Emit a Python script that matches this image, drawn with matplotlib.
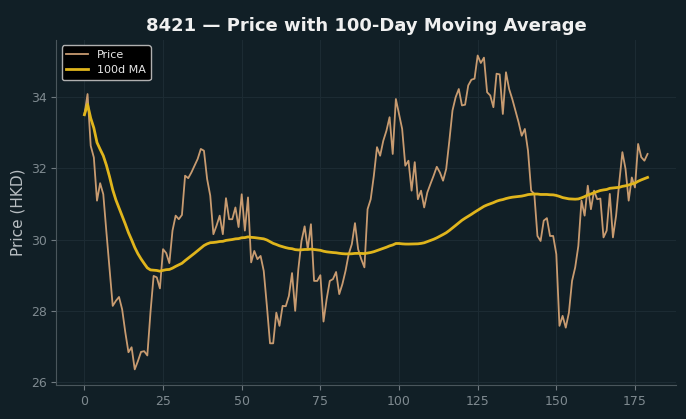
import numpy as np
import pandas as pd
import matplotlib
matplotlib.use("Agg")
import matplotlib.pyplot as plt

# daily closing prices (180 trading days)
price = [
    33.50, 34.08, 32.63, 32.30, 31.09, 31.58, 31.27, 30.20, 29.17, 28.14,
    28.28, 28.39, 28.04, 27.40, 26.84, 26.98, 26.36, 26.59, 26.85, 26.87,
    26.75, 27.96, 28.98, 28.94, 28.63, 29.73, 29.62, 29.34, 30.25, 30.67,
    30.57, 30.69, 31.79, 31.72, 31.88, 32.07, 32.26, 32.54, 32.49, 31.70,
    31.23, 30.15, 30.39, 30.67, 30.15, 31.16, 30.57, 30.57, 30.90, 30.35,
    31.27, 30.25, 31.18, 29.36, 29.68, 29.45, 29.54, 29.12, 28.14, 27.09,
    27.09, 27.95, 27.58, 28.14, 28.13, 28.42, 29.06, 28.00, 29.17, 29.96,
    30.37, 29.73, 30.43, 28.84, 28.84, 29.00, 27.70, 28.33, 28.84, 28.89,
    29.09, 28.47, 28.75, 29.12, 29.59, 29.87, 30.46, 29.73, 29.45, 29.22,
    30.85, 31.13, 31.79, 32.59, 32.35, 32.77, 33.05, 33.43, 32.40, 33.94,
    33.52, 33.10, 32.07, 32.21, 31.37, 32.17, 31.13, 31.37, 30.90, 31.32,
    31.56, 31.79, 32.04, 31.88, 31.65, 31.98, 32.77, 33.62, 33.99, 34.22,
    33.76, 33.78, 34.32, 34.48, 34.51, 35.16, 34.95, 35.10, 34.13, 34.04,
    33.71, 34.65, 34.63, 33.52, 34.69, 34.22, 33.94, 33.62, 33.29, 32.91,
    33.10, 32.49, 31.37, 31.28, 30.10, 29.96, 30.53, 30.60, 30.10, 30.10,
    29.59, 27.58, 27.86, 27.53, 27.95, 28.84, 29.22, 29.82, 31.09, 30.67,
    31.51, 30.85, 31.37, 31.13, 31.15, 30.06, 30.25, 31.28, 30.06, 30.67,
    31.60, 32.45, 31.98, 31.09, 31.74, 31.46, 32.68, 32.31, 32.21, 32.40,
]
days = np.arange(len(price))
ma_window = 100
ma = pd.Series(price).rolling(ma_window, min_periods=1).mean()

bg = "#111f26"
fig, ax = plt.subplots(figsize=(6.86, 4.19), dpi=100)
fig.patch.set_facecolor(bg)
ax.set_facecolor(bg)

ax.plot(days, price, color="#c89b70", linewidth=1.3, label="Price")
ax.plot(days, ma, color="#e0b51c", linewidth=2, label=f"{ma_window}d MA")

ax.set_title("8421 — Price with 100-Day Moving Average",
             color="#f0f0f0", fontsize=13, fontweight="bold")
ax.set_ylabel("Price (HKD)", color="#b8bec2", fontsize=11)
ax.grid(True, color="#1c2b33", linewidth=0.8)
ax.tick_params(colors="#6f7a80", labelcolor="#7f8a90", labelsize=9)
for side in ["top", "right"]:
    ax.spines[side].set_visible(False)
for side in ["left", "bottom"]:
    ax.spines[side].set_color("#4a565c")

leg = ax.legend(loc="upper left", fontsize=8, facecolor="black",
                edgecolor="#b0b0b0", framealpha=1)
for t in leg.get_texts():
    t.set_color("#e8e8e8")

fig.subplots_adjust(left=0.082, right=0.985, bottom=0.081, top=0.905)
fig.savefig("out.png", facecolor=bg)
